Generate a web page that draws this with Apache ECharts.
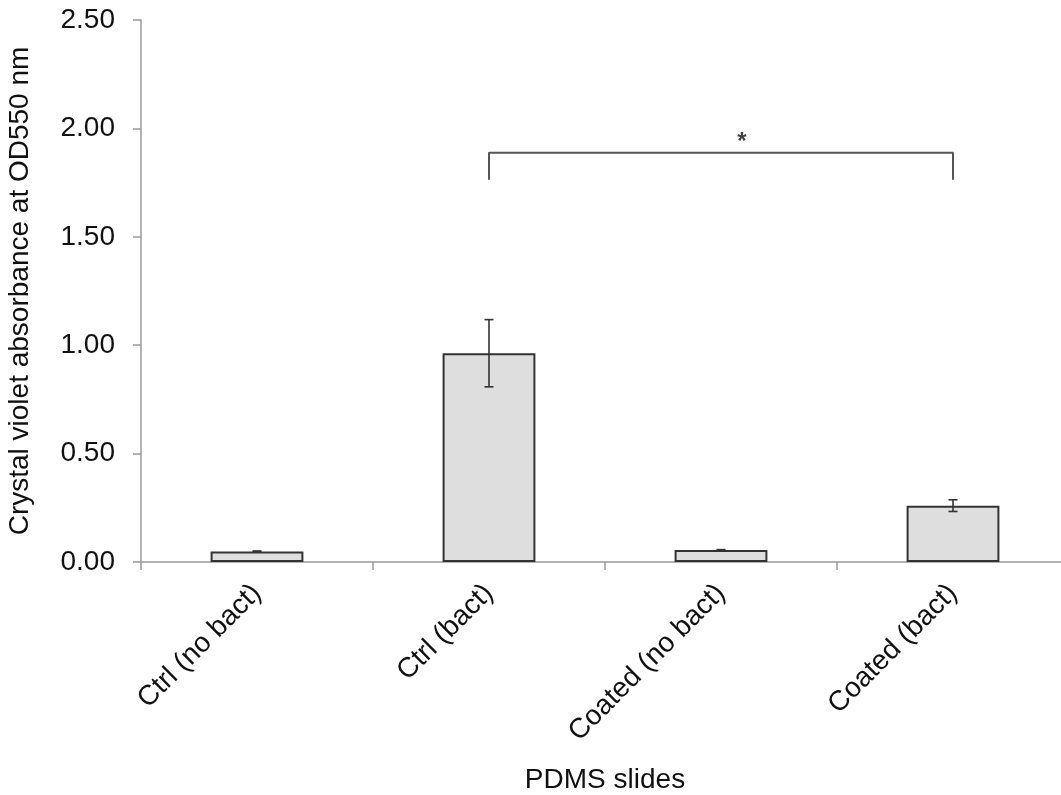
<!DOCTYPE html>
<html>
<head>
<meta charset="utf-8">
<script src="https://cdn.jsdelivr.net/npm/echarts@6/dist/echarts.min.js"></script>
<style>html,body{margin:0;padding:0;background:#fff}#c{width:1061px;height:795px}</style>
</head>
<body>
<div id="c"></div>
<script>
const categories = ['Ctrl (no bact)', 'Ctrl (bact)', 'Coated (no bact)', 'Coated (bact)'];
const means = [0.049, 0.963, 0.055, 0.260];
const errors = [0.002, 0.155, 0.002, 0.027];
const yTicks = [0, 0.5, 1.0, 1.5, 2.0, 2.5];
const bracketFrom = 1, bracketTo = 3, bracketTop = 1.888, bracketBottom = 1.763;
const starLabel = '*';

const chart = echarts.init(document.getElementById('c'));
const font = '"Liberation Sans", Arial, sans-serif';
const errData = means.map((m, i) => [i, m - errors[i], m + errors[i]]);
const bracketData = [[bracketFrom, bracketBottom], [bracketFrom, bracketTop], [bracketTo, bracketTop], [bracketTo, bracketBottom]];

chart.setOption({
  animation: false,
  backgroundColor: '#fff',
  textStyle: { fontFamily: font },
  grid: { left: 141, top: 20, width: 928, height: 542, containLabel: false, outerBoundsMode: 'none' },
  xAxis: {
    type: 'category',
    data: categories,
    axisLine: { lineStyle: { color: '#9a9a9a', width: 1.5 } },
    axisTick: { show: true, length: 8, lineStyle: { color: '#9a9a9a', width: 1.5 } },
    axisLabel: { rotate: 45, fontSize: 28, color: '#111', margin: 27, fontFamily: font, interval: 0 },
    splitLine: { show: false },
    name: 'PDMS slides',
    nameLocation: 'middle',
    nameGap: 204,
    nameTextStyle: { fontSize: 28, color: '#111', fontFamily: font }
  },
  yAxis: {
    type: 'value',
    min: yTicks[0], max: yTicks[yTicks.length - 1], interval: 0.5,
    axisLine: { show: true, lineStyle: { color: '#9a9a9a', width: 1.5 } },
    axisTick: { show: true, length: 8, lineStyle: { color: '#9a9a9a', width: 1.5 } },
    axisLabel: { fontSize: 28, color: '#111', margin: 26, fontFamily: font, formatter: v => v.toFixed(2) },
    splitLine: { show: false },
    name: 'Crystal violet absorbance at OD550 nm',
    nameLocation: 'middle',
    nameGap: 107,
    nameTextStyle: { fontSize: 28, color: '#111', fontFamily: font }
  },
  series: [
    {
      type: 'bar',
      data: means,
      barWidth: '40%',
      itemStyle: { color: '#dedede', borderColor: '#333', borderWidth: 2 },
      z: 2
    },
    {
      type: 'custom',
      data: errData,
      z: 5,
      renderItem: function (params, api) {
        const x = api.value(0);
        const lo = api.coord([x, api.value(1)]);
        const hi = api.coord([x, api.value(2)]);
        const w = 4.5;
        const st = { stroke: '#333', lineWidth: 1.6 };
        return {
          type: 'group',
          children: [
            { type: 'line', shape: { x1: hi[0], y1: hi[1], x2: lo[0], y2: lo[1] }, style: st },
            { type: 'line', shape: { x1: hi[0] - w, y1: hi[1], x2: hi[0] + w, y2: hi[1] }, style: st },
            { type: 'line', shape: { x1: lo[0] - w, y1: lo[1], x2: lo[0] + w, y2: lo[1] }, style: st }
          ]
        };
      }
    },
    {
      type: 'line',
      data: bracketData,
      symbol: 'none',
      lineStyle: { color: '#555', width: 2 },
      z: 6,
      silent: true
    },
    {
      type: 'scatter',
      data: [[(bracketFrom + bracketTo) / 2, bracketTop]],
      symbolSize: 0,
      label: { show: true, formatter: starLabel, position: 'top', distance: 0, offset: [21, 2], fontSize: 24, fontWeight: 'bold', color: '#111', fontFamily: font },
      silent: true
    }
  ]
});
</script>
</body>
</html>
